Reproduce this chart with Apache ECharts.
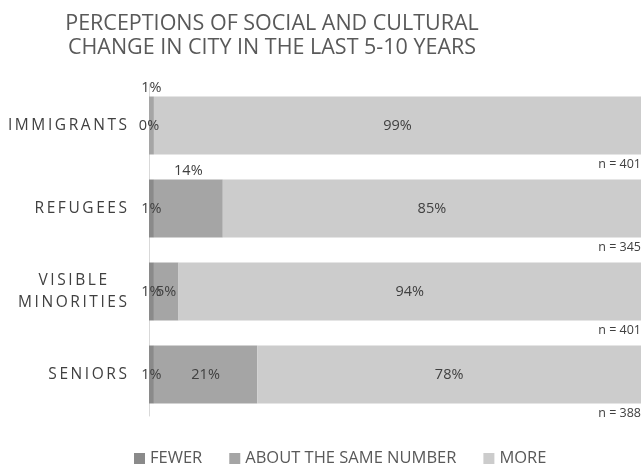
<!DOCTYPE html>
<html><head><meta charset="utf-8">
<script src="https://cdn.jsdelivr.net/npm/echarts@6/dist/echarts.min.js"></script>
<style>html,body{margin:0;padding:0;background:#fff}#c{width:642px;height:464px}</style>
</head><body><div id="c"></div>
<script>
var categories = ['IMMIGRANTS', 'REFUGEES', 'VISIBLE\nMINORITIES', 'SENIORS'];
var fewer = [0, 1, 1, 1];
var same = [1, 14, 5, 21];
var more = [99, 85, 94, 78];
var nValues = [401, 345, 401, 388];
var seriesNames = ['FEWER', 'ABOUT THE SAME NUMBER', 'MORE'];
var titleLines = ['PERCEPTIONS OF SOCIAL AND CULTURAL', 'CHANGE IN CITY IN THE LAST 5-10 YEARS'];

function spaced(s, sep) { return s.split('').join(sep); }
var TS = '\u2009';

var chart = echarts.init(document.getElementById('c'), null, {renderer: 'canvas'});
var font = 'Open Sans';
var sameAbove = [true, true, false, false];

chart.setOption({
  animation: false,
  title: titleLines.map(function (l, i) {
    return {
      text: l, left: 267, top: 8 + i * 24, textAlign: 'center',
      textStyle: {fontFamily: font, fontSize: 21.5, fontWeight: 'normal', color: '#595959'}
    };
  }),
  legend: {
    data: seriesNames,
    left: 129, top: 445,
    itemWidth: 11, itemHeight: 11, itemGap: 27,
    icon: 'rect',
    textStyle: {fontFamily: font, fontSize: 16.5, color: '#595959'}
  },
  grid: {left: 149, right: 1, top: 84, bottom: 48, containLabel: false},
  xAxis: {type: 'value', min: 0, max: 100, show: false},
  yAxis: {
    type: 'category', data: categories, inverse: true,
    axisLine: {show: true, lineStyle: {color: '#d9d9d9', width: 1}},
    axisTick: {show: false},
    axisLabel: {
      margin: 22, fontFamily: font, fontSize: 15.5, color: '#404040', lineHeight: 22,
      formatter: function (v) {
        if (v.indexOf('\n') >= 0) {
          var p = v.split('\n');
          return '{a|' + spaced(p[0], TS) + '}{pad|}\n{a|' + spaced(p[1], TS) + '}';
        }
        return spaced(v, TS);
      },
      rich: {a: {fontFamily: font, fontSize: 15.5, color: '#404040', lineHeight: 22}, pad: {width: 20}}
    }
  },
  series: [
    {
      name: seriesNames[0], type: 'bar', stack: 's', barWidth: 58,
      itemStyle: {color: '#8a8a8a'},
      label: {show: true, position: 'inside', formatter: '{c}%', fontFamily: font, fontSize: 14.5, color: '#404040'},
      data: fewer
    },
    {
      name: seriesNames[1], type: 'bar', stack: 's', barWidth: 58,
      itemStyle: {color: '#a5a5a5'},
      label: {show: true, position: 'inside', formatter: '{c}%', fontFamily: font, fontSize: 14.5, color: '#404040'},
      data: same.map(function (v, i) {
        return sameAbove[i] ? {value: v, label: {position: 'top', distance: 1}} : v;
      })
    },
    {
      name: seriesNames[2], type: 'bar', stack: 's', barWidth: 58,
      itemStyle: {color: '#cccccc'},
      label: {show: true, position: 'inside', formatter: '{c}%', fontFamily: font, fontSize: 14.5, color: '#404040'},
      data: more
    },
    {
      name: 'n', type: 'bar', barWidth: 58, barGap: '-100%', silent: true,
      itemStyle: {color: 'rgba(0,0,0,0)'},
      label: {show: true, position: 'insideBottomRight', distance: 0, offset: [0, 16],
        formatter: function (p) { return 'n = ' + nValues[p.dataIndex]; },
        fontFamily: font, fontSize: 12.5, color: '#404040'},
      data: fewer.map(function (v, i) { return fewer[i] + same[i] + more[i]; })
    }
  ]
});
</script></body></html>
